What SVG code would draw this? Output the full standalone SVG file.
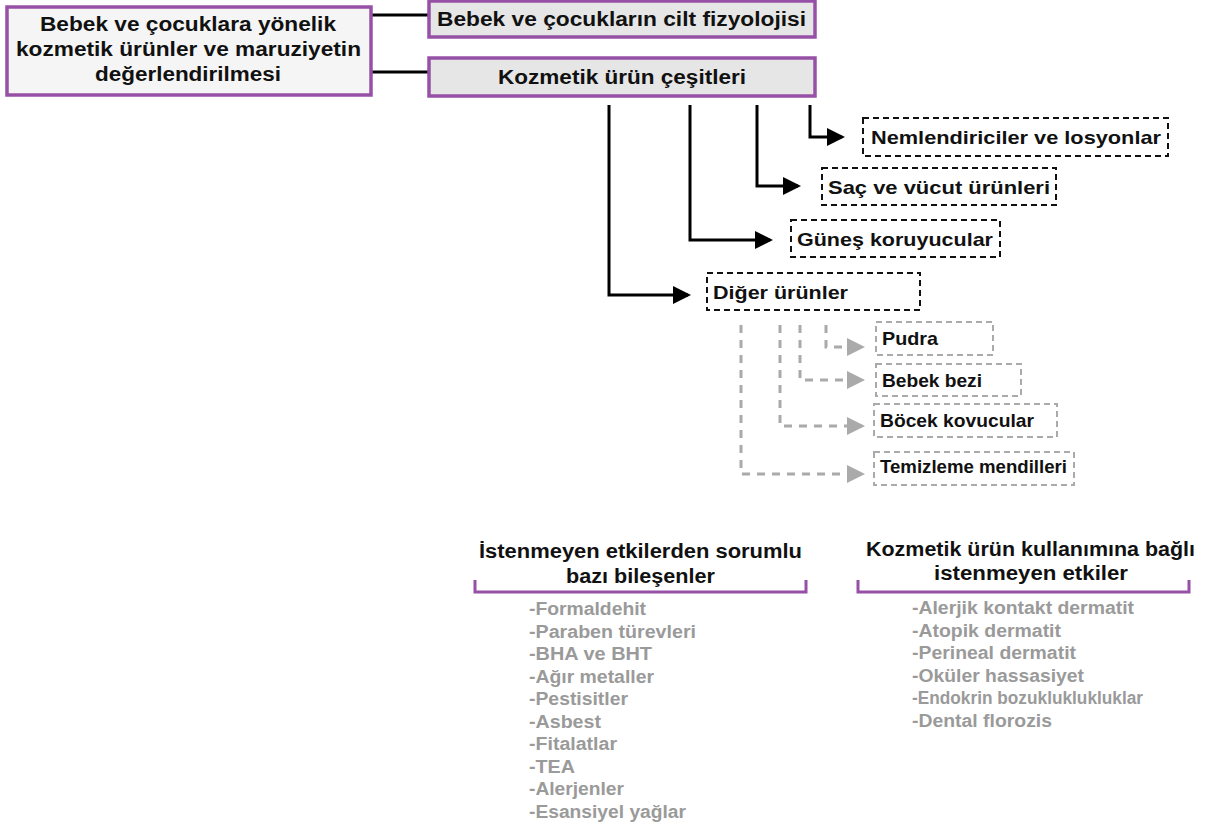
<svg xmlns="http://www.w3.org/2000/svg" width="1205" height="826" viewBox="0 0 1205 826">
<style>
text{font-family:"Liberation Sans",Arial,sans-serif;font-weight:bold}
.h{font-size:20px;fill:#111}
.n{font-size:19px;fill:#111}
.g{font-size:18px;fill:#9a9a9a}
.pb{stroke:#9651a6;stroke-width:3.5}
.db{fill:#fff;stroke:#111;stroke-width:2;stroke-dasharray:6 4}
.gb{fill:#fff;stroke:#aaa;stroke-width:2;stroke-dasharray:6 4}
.bl{fill:none;stroke:#000;stroke-width:3}
.gl{fill:none;stroke:#aaa;stroke-width:3;stroke-dasharray:8 7}
.br{fill:none;stroke:#9651a6;stroke-width:3}
</style>
<defs>
<marker id="ab" markerWidth="6" markerHeight="6" refX="5" refY="3" orient="auto" markerUnits="strokeWidth"><path d="M0,0 L6,3 L0,6 z" fill="#000"/></marker>
<marker id="ag" markerWidth="6" markerHeight="6" refX="5" refY="3" orient="auto" markerUnits="strokeWidth"><path d="M0,0 L6,3 L0,6 z" fill="#aaa"/></marker>
</defs>
<rect width="1205" height="826" fill="#fff"/>
<g id="connectors">
<line x1="372" y1="15" x2="430" y2="15" stroke="#000" stroke-width="3"/>
<line x1="372" y1="72" x2="430" y2="72" stroke="#000" stroke-width="3"/>
<path class="bl" d="M810,105 V137 H842" marker-end="url(#ab)"/>
<path class="bl" d="M757,105 V186 H798" marker-end="url(#ab)"/>
<path class="bl" d="M690,105 V240 H770" marker-end="url(#ab)"/>
<path class="bl" d="M609,105 V295 H688" marker-end="url(#ab)"/>
<path class="gl" d="M826,325 V347 H862" marker-end="url(#ag)"/>
<path class="gl" d="M800,325 V380 H862" marker-end="url(#ag)"/>
<path class="gl" d="M780,325 V426 H862" marker-end="url(#ag)"/>
<path class="gl" d="M741,325 V474 H862" marker-end="url(#ag)"/>
</g>
<g id="root">
<rect x="7" y="7" width="364" height="88" fill="#f5f5f5" class="pb"/>
<text class="h" x="40" y="31" textLength="296" lengthAdjust="spacingAndGlyphs">Bebek ve çocuklara yönelik</text>
<text class="h" x="16" y="56" textLength="345" lengthAdjust="spacingAndGlyphs">kozmetik ürünler ve maruziyetin</text>
<text class="h" x="95" y="81" textLength="186" lengthAdjust="spacingAndGlyphs">değerlendirilmesi</text>
</g>
<g id="fizyoloji">
<rect x="429" y="1" width="386" height="36" fill="#e6e6e6" class="pb"/>
<text class="h" x="437" y="26" textLength="369" lengthAdjust="spacingAndGlyphs">Bebek ve çocukların cilt fizyolojisi</text>
</g>
<g id="cesitler">
<rect x="429" y="58" width="386" height="38" fill="#e6e6e6" class="pb"/>
<text class="h" x="498" y="84" textLength="248" lengthAdjust="spacingAndGlyphs">Kozmetik ürün çeşitleri</text>
</g>
<g id="nemlendirici"><rect x="863" y="118" width="305" height="38" class="db"/><text class="n" x="871" y="144" textLength="290" lengthAdjust="spacingAndGlyphs">Nemlendiriciler ve losyonlar</text></g>
<g id="sac"><rect x="822" y="168" width="234" height="37" class="db"/><text class="n" x="828" y="194" textLength="222" lengthAdjust="spacingAndGlyphs">Saç ve vücut ürünleri</text></g>
<g id="gunes"><rect x="791" y="220" width="209" height="37" class="db"/><text class="n" x="797" y="246" textLength="196" lengthAdjust="spacingAndGlyphs">Güneş koruyucular</text></g>
<g id="diger"><rect x="707" y="273" width="213" height="37" class="db"/><text class="n" x="713" y="299" textLength="135" lengthAdjust="spacingAndGlyphs">Diğer ürünler</text></g>
<g id="pudra"><rect x="876" y="322" width="117" height="33" class="gb"/><text class="n" x="882" y="345" textLength="56" lengthAdjust="spacingAndGlyphs">Pudra</text></g>
<g id="bez"><rect x="876" y="364" width="145" height="32" class="gb"/><text class="n" x="882" y="387" textLength="100" lengthAdjust="spacingAndGlyphs">Bebek bezi</text></g>
<g id="bocek"><rect x="874" y="404" width="183" height="33" class="gb"/><text class="n" x="880" y="427" textLength="154" lengthAdjust="spacingAndGlyphs">Böcek kovucular</text></g>
<g id="mendil"><rect x="874" y="452" width="200" height="33" class="gb"/><text class="n" x="880" y="473" textLength="187" lengthAdjust="spacingAndGlyphs">Temizleme mendilleri</text></g>
<g id="bilesenler">
<text class="h" x="479" y="558" textLength="323" lengthAdjust="spacingAndGlyphs">İstenmeyen etkilerden sorumlu</text>
<text class="h" x="566" y="583" textLength="149" lengthAdjust="spacingAndGlyphs">bazı bileşenler</text>
<path class="br" d="M475,580 V592 H806 V580"/>
<text class="g" x="529" y="615" textLength="117" lengthAdjust="spacingAndGlyphs">-Formaldehit</text>
<text class="g" x="529" y="638" textLength="167" lengthAdjust="spacingAndGlyphs">-Paraben türevleri</text>
<text class="g" x="529" y="660" textLength="123" lengthAdjust="spacingAndGlyphs">-BHA ve BHT</text>
<text class="g" x="529" y="683" textLength="125" lengthAdjust="spacingAndGlyphs">-Ağır metaller</text>
<text class="g" x="529" y="705" textLength="99" lengthAdjust="spacingAndGlyphs">-Pestisitler</text>
<text class="g" x="529" y="728" textLength="72" lengthAdjust="spacingAndGlyphs">-Asbest</text>
<text class="g" x="529" y="750" textLength="88" lengthAdjust="spacingAndGlyphs">-Fitalatlar</text>
<text class="g" x="529" y="773" textLength="46" lengthAdjust="spacingAndGlyphs">-TEA</text>
<text class="g" x="529" y="795" textLength="95" lengthAdjust="spacingAndGlyphs">-Alerjenler</text>
<text class="g" x="529" y="818" textLength="157" lengthAdjust="spacingAndGlyphs">-Esansiyel yağlar</text>
</g>
<g id="etkiler">
<text class="h" x="866" y="556" textLength="329" lengthAdjust="spacingAndGlyphs">Kozmetik ürün kullanımına bağlı</text>
<text class="h" x="934" y="580" textLength="194" lengthAdjust="spacingAndGlyphs">istenmeyen etkiler</text>
<path class="br" d="M858,580 V592 H1189 V580"/>
<text class="g" x="912" y="614" textLength="222" lengthAdjust="spacingAndGlyphs">-Alerjik kontakt dermatit</text>
<text class="g" x="912" y="637" textLength="149" lengthAdjust="spacingAndGlyphs">-Atopik dermatit</text>
<text class="g" x="912" y="659" textLength="164" lengthAdjust="spacingAndGlyphs">-Perineal dermatit</text>
<text class="g" x="912" y="682" textLength="172" lengthAdjust="spacingAndGlyphs">-Oküler hassasiyet</text>
<text class="g" x="912" y="704" textLength="231" lengthAdjust="spacingAndGlyphs">-Endokrin bozukluklukluklar</text>
<text class="g" x="912" y="727" textLength="140" lengthAdjust="spacingAndGlyphs">-Dental florozis</text>
</g>
</svg>
